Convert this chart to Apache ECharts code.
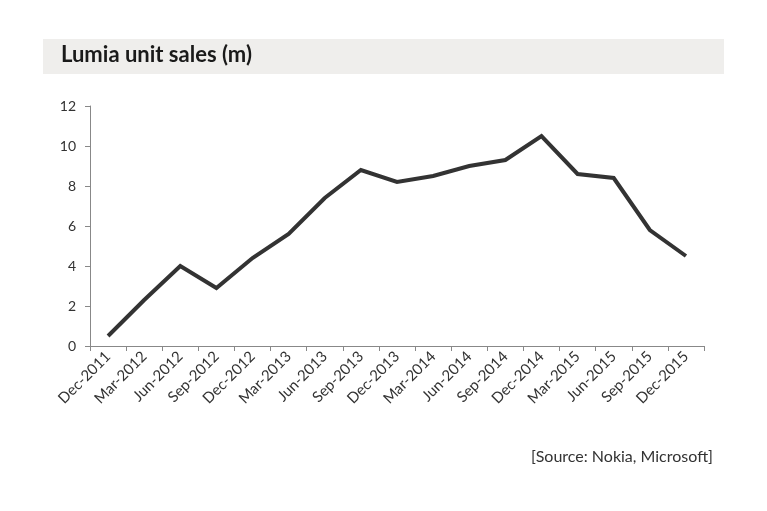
<!DOCTYPE html>
<html>
<head>
<meta charset="utf-8">
<script src="https://cdn.jsdelivr.net/npm/echarts@6/dist/echarts.min.js"></script>
<style>
html, body { margin: 0; padding: 0; background: #fff; }
#main { width: 767px; height: 511px; }
</style>
</head>
<body>
<div id="main"></div>
<script>
// quarters and Lumia units sold (millions)
var quarters = ['Dec-2011', 'Mar-2012', 'Jun-2012', 'Sep-2012', 'Dec-2012', 'Mar-2013',
	'Jun-2013', 'Sep-2013', 'Dec-2013', 'Mar-2014', 'Jun-2014', 'Sep-2014', 'Dec-2014',
	'Mar-2015', 'Jun-2015', 'Sep-2015', 'Dec-2015'];
var units = [0.5, 2.3, 4.0, 2.9, 4.4, 5.6, 7.4, 8.8, 8.2, 8.5, 9.0, 9.3, 10.5, 8.6, 8.4, 5.8, 4.5];
var yTicks = [0, 2, 4, 6, 8, 10, 12];

var font = 'Lato, "Open Sans", sans-serif';
var myChart = echarts.init(document.getElementById('main'));
myChart.setOption({
	animation: false,
	backgroundColor: '#fff',
	graphic: [{
		type: 'rect',
		shape: { x: 43, y: 39, width: 681, height: 35 },
		style: { fill: '#efeeec' },
		z: -1
	}, {
		type: 'text',
		left: 61,
		top: 44,
		style: {
			text: 'Lumia unit sales (m)',
			font: 'bold 22px ' + font,
			fill: '#1a1a1a'
		}
	}, {
		type: 'text',
		right: 54,
		top: 449,
		style: {
			text: '[Source: Nokia, Microsoft]',
			font: '16px ' + font,
			fill: '#333'
		}
	}],
	grid: {
		left: 90,
		right: 63,
		top: 106,
		bottom: 165
	},
	xAxis: {
		type: 'category',
		data: quarters,
		boundaryGap: true,
		axisLine: { lineStyle: { color: '#888', width: 1 } },
		axisTick: { show: true, length: 5, lineStyle: { color: '#888' } },
		axisLabel: {
			rotate: 45,
			interval: 0,
			color: '#333',
			fontSize: 15,
			fontFamily: font,
			margin: 8
		},
		splitLine: { show: false }
	},
	yAxis: {
		type: 'value',
		min: yTicks[0],
		max: yTicks[yTicks.length - 1],
		interval: 2,
		axisLine: { show: true, lineStyle: { color: '#888', width: 1 } },
		axisTick: { show: true, length: 5, lineStyle: { color: '#888' } },
		axisLabel: {
			color: '#333',
			fontSize: 14,
			fontFamily: font,
			margin: 14
		},
		splitLine: { show: false }
	},
	series: [{
		name: 'Lumia',
		type: 'line',
		data: units,
		symbol: 'none',
		lineStyle: { color: '#333', width: 4, join: 'miter' }
	}]
});
</script>
</body>
</html>
